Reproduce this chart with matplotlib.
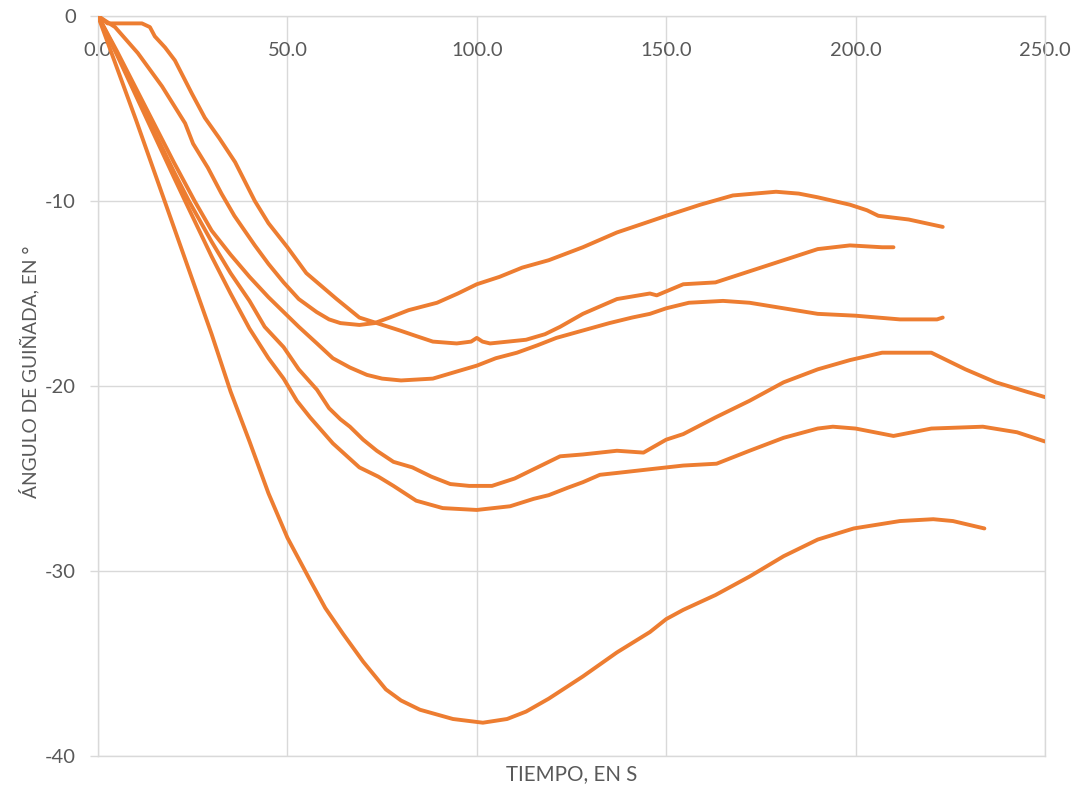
import matplotlib
matplotlib.use("Agg")
import matplotlib.pyplot as plt

plt.rcParams['font.family'] = ['Lato', 'DejaVu Sans']

# ---------------- data ----------------
x_ticks = [0, 50, 100, 150, 200, 250]
x_tick_labels = ["0.0", "50.0", "100.0", "150.0", "200.0", "250.0"]
y_ticks = [0, -10, -20, -30, -40]
y_tick_labels = ["0", "-10", "-20", "-30", "-40"]

x_title = "TIEMPO, EN S"
y_title = "ÁNGULO DE GUIÑADA, EN °"

# series 1 (shallow minimum ~ -16.7)
s1_x = [0, 4.5, 10.5, 16.9, 23, 25.1, 29, 32.6, 36, 41.4, 45, 49, 53, 57.7, 61, 64, 69, 73, 77, 82,
        89.5, 95, 100, 106, 112, 119, 128, 137, 145.7, 150, 159, 167.6, 179, 185, 190, 198.5, 203,
        206, 214, 223]
s1_y = [0, -0.6, -2.0, -3.8, -5.8, -6.9, -8.2, -9.6, -10.8, -12.4, -13.4, -14.4, -15.3, -16.0, -16.4,
        -16.6, -16.7, -16.6, -16.3, -15.9, -15.5, -15.0, -14.5, -14.1, -13.6, -13.2, -12.5, -11.7,
        -11.1, -10.8, -10.2, -9.7, -9.5, -9.6, -9.8, -10.2, -10.5, -10.8, -11.0, -11.4]

# series 2 (flat start, minimum ~ -17.7)
s2_x = [0, 2.5, 11.6, 13.7, 15, 17.7, 20.3, 24.8, 28.2, 32, 36.2, 41.4, 45, 50, 55, 59, 63, 69, 73.6,
        79.7, 84, 88.4, 94.7, 98.5, 100, 101.5, 103.5, 113, 118, 122, 128, 137, 145.7, 147.5, 154.5,
        163, 172, 181, 190, 198.5, 207, 210]
s2_y = [0, -0.4, -0.4, -0.6, -1.1, -1.7, -2.4, -4.2, -5.5, -6.6, -7.9, -10.0, -11.2, -12.5, -13.9,
        -14.6, -15.3, -16.3, -16.6, -17.0, -17.3, -17.6, -17.7, -17.6, -17.4, -17.6, -17.7, -17.5,
        -17.2, -16.8, -16.1, -15.3, -15.0, -15.1, -14.5, -14.4, -13.8, -13.2, -12.6, -12.4, -12.5, -12.5]

# series 3 (minimum ~ -19.7)
s3_x = [0, 5, 10, 15, 20, 25.5, 30, 35, 40, 45, 49, 53, 57.8, 62, 66.5, 71, 75, 80, 88.4, 95, 100,
        105, 110.6, 116, 121, 128, 135, 141, 145.7, 150, 156, 165, 172, 181, 190, 200, 211.7, 221.5, 223]
s3_y = [0, -1.9, -3.9, -5.9, -7.9, -10.0, -11.6, -12.9, -14.1, -15.2, -16.0, -16.8, -17.7, -18.5,
        -19.0, -19.4, -19.6, -19.7, -19.6, -19.2, -18.9, -18.5, -18.2, -17.8, -17.4, -17.0, -16.6,
        -16.3, -16.1, -15.8, -15.5, -15.4, -15.5, -15.8, -16.1, -16.2, -16.4, -16.4, -16.3]

# series 4 (minimum ~ -25.4)
s4_x = [0, 5, 10, 15, 20, 24, 30, 35, 40, 44, 49, 53, 57.8, 61, 64, 66.5, 70, 73.6, 78, 83, 88, 93,
        98, 104, 110, 115, 119, 122, 128, 137, 144, 150, 154.5, 163, 172, 181, 190, 198.5, 207, 214,
        220, 229, 237, 245, 250]
s4_y = [0, -2.0, -4.2, -6.3, -8.4, -10.0, -12.2, -13.9, -15.4, -16.8, -17.9, -19.1, -20.2, -21.2,
        -21.8, -22.2, -22.9, -23.5, -24.1, -24.4, -24.9, -25.3, -25.4, -25.4, -25.0, -24.5, -24.1,
        -23.8, -23.7, -23.5, -23.6, -22.9, -22.6, -21.7, -20.8, -19.8, -19.1, -18.6, -18.2, -18.2,
        -18.2, -19.1, -19.8, -20.3, -20.6]

# series 5 (minimum ~ -26.7)
s5_x = [0, 5, 10, 15, 20, 23, 30, 35, 40, 45, 49, 52.5, 56, 62, 69, 74, 78, 84, 91, 100, 108.8, 115,
        119, 124, 128, 132.5, 137, 145.7, 154.5, 163.3, 172, 181, 190, 194, 200, 205, 210, 215, 220,
        233.6, 242.6, 250]
s5_y = [0, -2.1, -4.3, -6.5, -8.7, -10.0, -13.0, -15.0, -16.9, -18.5, -19.6, -20.8, -21.7, -23.1,
        -24.4, -24.9, -25.4, -26.2, -26.6, -26.7, -26.5, -26.1, -25.9, -25.5, -25.2, -24.8, -24.7,
        -24.5, -24.3, -24.2, -23.5, -22.8, -22.3, -22.2, -22.3, -22.5, -22.7, -22.5, -22.3, -22.2,
        -22.5, -23.0]

# series 6 (deep minimum ~ -38.2)
s6_x = [0, 5, 10, 15, 20, 25, 30, 35, 40, 45, 50, 56, 60, 64.7, 70, 76, 80, 85, 93.7, 101.6, 108,
        113, 119, 128, 137, 145.7, 150, 154.5, 163, 172, 181, 190, 199.5, 211.7, 220.5, 225.7, 234]
s6_y = [0, -2.8, -5.6, -8.5, -11.4, -14.3, -17.2, -20.3, -23.0, -25.8, -28.2, -30.5, -32.0, -33.4,
        -34.9, -36.4, -37.0, -37.5, -38.0, -38.2, -38.0, -37.6, -36.9, -35.7, -34.4, -33.3, -32.6,
        -32.1, -31.3, -30.3, -29.2, -28.3, -27.7, -27.3, -27.2, -27.3, -27.7]

series = [(s1_x, s1_y), (s2_x, s2_y), (s3_x, s3_y), (s4_x, s4_y), (s5_x, s5_y), (s6_x, s6_y)]

# ---------------- styling ----------------
line_color = "#ED7D31"
grid_color = "#D9D9D9"
text_color = "#595959"
fs_ticks = 14.5
fs_xtitle = 14.8
fs_ytitle = 13.8

fig = plt.figure(figsize=(10.77, 7.91), dpi=100)
ax = fig.add_axes([98 / 1077, 1 - 756 / 791, (1045 - 98) / 1077, (756 - 16) / 791])

for sx, sy in series:
    ax.plot(sx, sy, color=line_color, lw=2.8, solid_capstyle='round', solid_joinstyle='round', zorder=3)

ax.set_xlim(0, 250)
ax.set_ylim(-40, 0)

ax.set_xticks(x_ticks)
ax.set_xticklabels(x_tick_labels)
ax.set_yticks(y_ticks)
ax.set_yticklabels(y_tick_labels)

ax.grid(True, color=grid_color, lw=1.0, zorder=0)
ax.set_axisbelow(True)
for sp in ax.spines.values():
    sp.set_color(grid_color)
    sp.set_linewidth(1.0)

ax.xaxis.tick_top()
ax.tick_params(axis='x', length=0, pad=-31, labelsize=fs_ticks, labelcolor=text_color)
ax.tick_params(axis='y', length=6, width=1.0, color=grid_color, pad=10, labelsize=fs_ticks,
               labelcolor=text_color)

ax.set_xlabel(x_title, fontsize=fs_xtitle, color=text_color, labelpad=6)
ax.xaxis.set_label_position('bottom')
ax.set_ylabel(y_title, fontsize=fs_ytitle, color=text_color)
ax.yaxis.set_label_coords(-0.062, 0.519)

fig.savefig("out.png", dpi=100, facecolor="white")
